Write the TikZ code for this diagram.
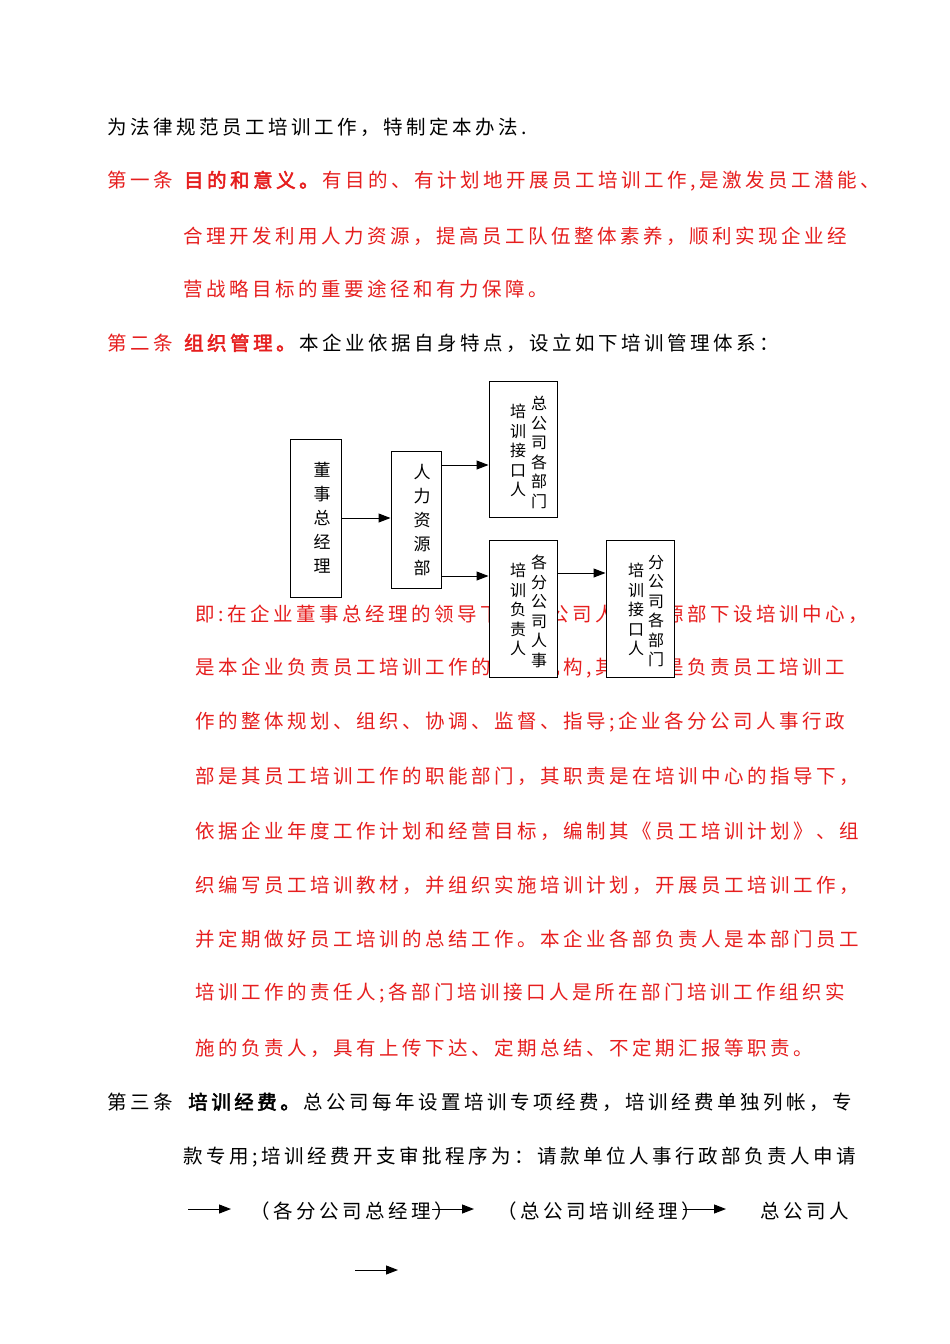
\documentclass[tikz,border=0pt]{standalone}
\usepackage{fontspec}
\setmainfont{Noto Sans CJK SC}[AutoFakeBold=2.5]
\newfontfamily\bodyf{Noto Sans CJK SC}[LetterSpace=18,AutoFakeBold=2.5]
\usetikzlibrary{arrows.meta}
\definecolor{redt}{RGB}{230,30,30}
\begin{document}
\begin{tikzpicture}[x=1pt,y=-1pt,
  ln/.style={anchor=west,inner sep=0pt,font=\bodyf\fontsize{19.5}{22}\selectfont},
  rl/.style={ln,text=redt},
  box/.style={draw,fill=white,line width=1pt,inner sep=0pt},
  vt/.style={inner sep=0pt,align=center,font=\fontsize{16}{19.5}\selectfont},
  vtw/.style={vt,font=\fontsize{17}{24}\selectfont},
  arr/.style={-{Triangle[length=12pt,width=9pt]},line width=1pt}]
\useasboundingbox (0,0) rectangle (950,1344);
\fill[white] (0,0) rectangle (950,1344);
\node[ln] (l1) at (107,127) {为法律规范员工培训工作，特制定本办法.};
\node[rl] (l2) at (107,181) {第一条 \textbf{目的和意义。}有目的、有计划地开展员工培训工作,是激发员工潜能、};
\node[rl] (l3) at (183,236) {合理开发利用人力资源，提高员工队伍整体素养，顺利实现企业经};
\node[rl] (l4) at (183,289) {营战略目标的重要途径和有力保障。};
\node[ln] (l5) at (107,343) {\textcolor{redt}{第二条 \textbf{组织管理。}}本企业依据自身特点，设立如下培训管理体系：};
\node[rl] (p1) at (195,614) {即:在企业董事总经理的领导下，总公司人力资源部下设培训中心，};
\node[rl] (p2) at (195,668) {是本企业负责员工培训工作的职能机构,其职责是负责员工培训工};
\node[rl] (p3) at (195,722) {作的整体规划、组织、协调、监督、指导;企业各分公司人事行政};
\node[rl] (p4) at (195,776) {部是其员工培训工作的职能部门，其职责是在培训中心的指导下，};
\node[rl] (p5) at (195,831) {依据企业年度工作计划和经营目标，编制其《员工培训计划》、组};
\node[rl] (p6) at (195,885) {织编写员工培训教材，并组织实施培训计划，开展员工培训工作，};
\node[rl] (p7) at (195,939) {并定期做好员工培训的总结工作。本企业各部负责人是本部门员工};
\node[rl] (p8) at (195,993) {培训工作的责任人;各部门培训接口人是所在部门培训工作组织实};
\node[rl] (p9) at (195,1048) {施的负责人，具有上传下达、定期总结、不定期汇报等职责。};
\node[ln] (t1) at (107,1102) {第三条\hspace{12pt}\textbf{培训经费。}总公司每年设置培训专项经费，培训经费单独列帐，专};
\node[ln] (t2) at (183,1157) {款专用;培训经费开支审批程序为：请款单位人事行政部负责人申请};
\node[ln] (t3) at (250,1211) {（各分公司总经理）};
\node[ln] (t4) at (497,1211) {（总公司培训经理）};
\node[ln] (t5) at (760,1211) {总公司人};
\coordinate (a1s) at (188,1209); \coordinate (a1e) at (231,1209);
\coordinate (a2s) at (432,1209); \coordinate (a2e) at (474,1209);
\coordinate (a3s) at (683,1209); \coordinate (a3e) at (726,1209);
\coordinate (a4s) at (355,1270); \coordinate (a4e) at (398,1270);
\draw[arr] (a1s) -- (a1e);
\draw[arr] (a2s) -- (a2e);
\draw[arr] (a3s) -- (a3e);
\draw[arr] (a4s) -- (a4e);
% diagram
\node[box,minimum width=51pt,minimum height=158pt] (b1) at (315.5,518) {};
\node[vtw] at (322,518) {董\\事\\总\\经\\理};
\node[box,minimum width=50pt,minimum height=137pt] (b2) at (416,519.5) {};
\node[vtw] at (422,520) {人\\力\\资\\源\\部};
\node[box,minimum width=68pt,minimum height=136pt] (b3) at (523,449) {};
\node[vt,anchor=north] at (539,396) {总\\公\\司\\各\\部\\门};
\node[vt,anchor=north] at (518,404) {培\\训\\接\\口\\人};
\node[box,minimum width=68pt,minimum height=137pt] (b4) at (523,608.5) {};
\node[vt,anchor=north] at (539,555) {各\\分\\公\\司\\人\\事};
\node[vt,anchor=north] at (518,563) {培\\训\\负\\责\\人};
\node[box,minimum width=68pt,minimum height=137pt] (b5) at (640,608.5) {};
\node[vt,anchor=north] at (656,555) {分\\公\\司\\各\\部\\门};
\node[vt,anchor=north] at (636,563) {培\\训\\接\\口\\人};
\coordinate (c1) at (441,465); \coordinate (c2) at (441,576);
\coordinate (c3) at (557,573);
\draw[arr] (b1.east) -- (b2.west |- b1.east);
\draw[arr] (c1) -- (b3.west |- c1);
\draw[arr] (c2) -- (b4.west |- c2);
\draw[arr] (c3) -- (b5.west |- c3);
\end{tikzpicture}
\end{document}
